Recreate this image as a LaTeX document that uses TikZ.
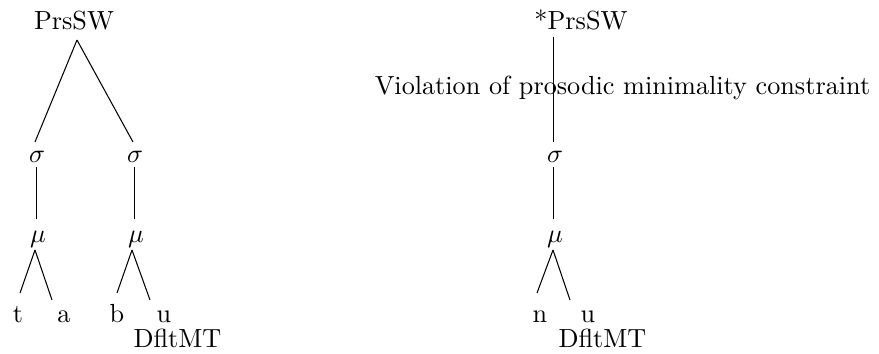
\documentclass[tikz,border=0pt]{standalone}
\begin{document}
\begin{tikzpicture}[x=0.3817pt,y=-0.3817pt,
  lab/.style={inner sep=0pt,anchor=base},
  edge/.style={line width=0.4pt}]
\useasboundingbox (0,0) rectangle (879,353);
% left tree
\node[lab] (prs) at (74,29) {PrsSW};
\node[lab] (s1) at (37,162) {$\sigma$};
\node[lab] (s2) at (135,162) {$\sigma$};
\node[lab] (m1) at (38,242) {$\mu$};
\node[lab] (m2) at (136,242) {$\mu$};
\node[lab] (t) at (18,322) {t};
\node[lab] (a) at (64,322) {a};
\node[lab] (b) at (117,322) {b};
\node[lab] (u1) at (164,322) {u};
\node[lab] (d1) at (177.5,347) {DfltMT};
\draw[edge] ([shift={(3,11)}]prs.base) -- ([shift={(-2,-20)}]s1.base);
\draw[edge] ([shift={(3,11)}]prs.base) -- ([shift={(-2,-20)}]s2.base);
\draw[edge] ([shift={(-0.5,5)}]s1.base) -- ([shift={(-1.5,-23)}]m1.base);
\draw[edge] ([shift={(-0.5,5)}]s2.base) -- ([shift={(-1.5,-23)}]m2.base);
\draw[edge] ([shift={(-3,8)}]m1.base) -- ([shift={(2,-29)}]t.base);
\draw[edge] ([shift={(-3,8)}]m1.base) -- ([shift={(-12,-22)}]a.base);
\draw[edge] ([shift={(-4,8)}]m2.base) -- ([shift={(0,-29)}]b.base);
\draw[edge] ([shift={(-4,8)}]m2.base) -- ([shift={(-14,-22)}]u1.base);
% right tree
\node[lab] (prs2) at (581,29) {*PrsSW};
\node[lab] (viol) at (622.5,94) {Violation of prosodic minimality constraint};
\node[lab] (s3) at (555,162) {$\sigma$};
\node[lab] (m3) at (555,242) {$\mu$};
\node[lab] (n) at (540,322) {n};
\node[lab] (u2) at (588,322) {u};
\node[lab] (d2) at (602.5,347) {DfltMT};
\draw[edge] ([shift={(-27.5,8)}]prs2.base) -- ([shift={(-1.5,-20)}]s3.base);
\draw[edge] ([shift={(-1.5,5)}]s3.base) -- ([shift={(-1.5,-23)}]m3.base);
\draw[edge] ([shift={(-2,8)}]m3.base) -- ([shift={(-3,-29)}]n.base);
\draw[edge] ([shift={(-2,8)}]m3.base) -- ([shift={(-18,-22)}]u2.base);
\end{tikzpicture}
\end{document}
